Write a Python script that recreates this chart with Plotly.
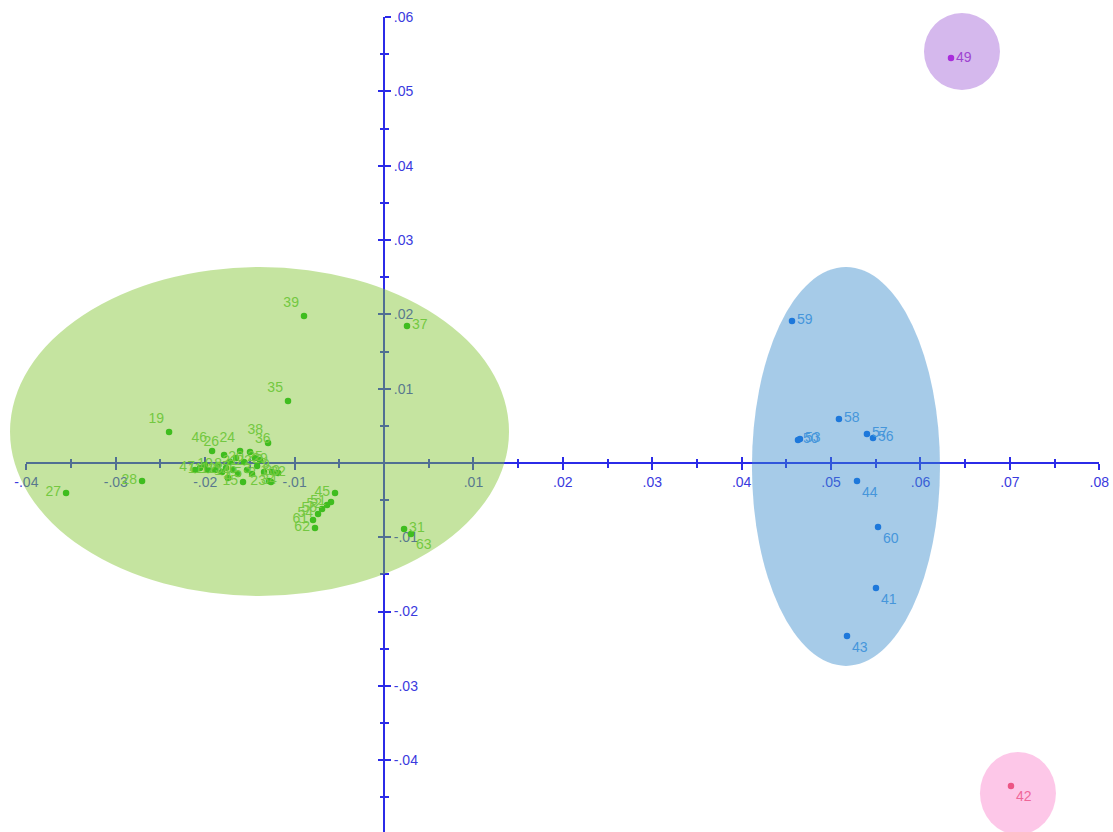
import plotly.graph_objects as go

# ---------------------------------------------------------------- data
# Cluster A (green)
green_x = [-0.00895, 0.00257, -0.01074, -0.02404, -0.03556, -0.02706, -0.01297,
           -0.01923, -0.01789, -0.01610, -0.01499, -0.01655, -0.01722, -0.01566,
           -0.01443, -0.01387, -0.01420, -0.01253, -0.01185, -0.01286, -0.01264,
           -0.01577, -0.01812, -0.01890, -0.01968, -0.02058, -0.02114, -0.02002,
           -0.01856, -0.01767, -0.01689, -0.01633, -0.01745, -0.01532, -0.01476,
           -0.01342,
           -0.00548, -0.00593, -0.00637, -0.00693, -0.00738, -0.00794, -0.00772,
           0.00224, 0.00302]
green_y = [0.01978, 0.01843, 0.00834, 0.00417, -0.00404, -0.00242, 0.00269,
           0.00161, 0.00108, 0.00161, 0.00148, 0.00067, 0.00013, 0.00013,
           0.00067, 0.00040, -0.00040, -0.00121, -0.00135, -0.00242, -0.00256,
           -0.00256, -0.00121, -0.00094, -0.00094, -0.00067, -0.00094, -0.00027,
           -0.00027, -0.00067, -0.00094, -0.00148, -0.00202, -0.00094, -0.00148,
           -0.00121,
           -0.00404, -0.00525, -0.00565, -0.00619, -0.00686, -0.00767, -0.00875,
           -0.00888, -0.00955]
green_labels = ["39", "37", "35", "19", "27", "28", "38",
                "46", "26", "24", "36", "20", "21", "22",
                "25", "29", "9", "30", "32", "34", "23",
                "15", "14", "13", "12", "47", "11", "10",
                "8", "7", "6", "5", "4", "3", "2",
                "1",
                "45", "51", "52", "55", "54", "61", "62",
                "31", "63"]
green_pos = ["top left", "middle right", "top left", "top left", "middle left", "middle left", "top left",
             "top left", "top left", "top left", "top right", "middle center", "middle center", "middle center",
             "middle center", "middle center", "middle right", "middle center", "middle center", "middle center", "middle left",
             "middle left", "middle center", "middle center", "middle center", "middle left", "middle center", "middle center",
             "middle center", "middle center", "middle center", "middle center", "middle center", "middle center", "middle center",
             "middle center",
             "middle left", "middle left", "middle left", "middle left", "middle left", "middle left", "middle left",
             "middle right", "bottom right"]

# Cluster B (blue)
blue_x = [0.04563, 0.05088, 0.04630, 0.04652, 0.05401, 0.05469, 0.05290, 0.05525, 0.05502, 0.05178]
blue_y = [0.01911, 0.00592, 0.00309, 0.00323, 0.00390, 0.00336, -0.00242, -0.00861, -0.01682, -0.02328]
blue_labels = ["59", "58", "50", "53", "57", "56", "44", "60", "41", "43"]
blue_pos = ["middle right", "middle right", "middle right", "middle right", "middle right",
            "middle right", "bottom right", "bottom right", "bottom right", "bottom right"]

# Cluster C (purple) and cluster D (pink)
purple_x, purple_y, purple_labels = [0.06341], [0.05449], ["49"]
pink_x, pink_y, pink_labels = [0.07012], [-0.04346], ["42"]

# Cluster outlines: (x0, x1, y0, y1)
green_region = (-0.04183, 0.01398, -0.01790, 0.02637)
blue_region = (0.04115, 0.06218, -0.02731, 0.02637)
purple_region = (0.06039, 0.06889, 0.05019, 0.06055)
pink_region = (0.06665, 0.07515, -0.05000, -0.03889)

# Axis ticks
x_tickvals = [-0.04, -0.03, -0.02, -0.01, 0.01, 0.02, 0.03, 0.04, 0.05, 0.06, 0.07, 0.08]
x_ticktext = ["-.04", "-.03", "-.02", "-.01", ".01", ".02", ".03", ".04", ".05", ".06", ".07", ".08"]
x_minorvals = [-0.035, -0.025, -0.015, -0.005, 0.005, 0.015, 0.025, 0.035, 0.045, 0.055, 0.065, 0.075]
y_tickvals = [-0.04, -0.03, -0.02, -0.01, 0.01, 0.02, 0.03, 0.04, 0.05, 0.06]
y_ticktext = ["-.04", "-.03", "-.02", "-.01", ".01", ".02", ".03", ".04", ".05", ".06"]
y_minorvals = [-0.045, -0.035, -0.025, -0.015, -0.005, 0.005, 0.015, 0.025, 0.035, 0.045, 0.055]

# ---------------------------------------------------------------- geometry
W, H = 1113, 832
X_WINDOW = [-0.04295, 0.08153]   # data extent of the whole canvas
Y_WINDOW = [-0.04966, 0.06230]
X_AXIS = [-0.04, 0.08]           # drawn extent of the axes
Y_AXIS = [Y_WINDOW[0], 0.06]

xs = X_WINDOW[1] - X_WINDOW[0]
ys = Y_WINDOW[1] - Y_WINDOW[0]
x_dom = [(X_AXIS[0] - X_WINDOW[0]) / xs, (X_AXIS[1] - X_WINDOW[0]) / xs]
y_dom = [(Y_AXIS[0] - Y_WINDOW[0]) / ys, (Y_AXIS[1] - Y_WINDOW[0]) / ys]
x_axis_pos = (0 - Y_WINDOW[0]) / ys     # where y = 0 sits on the page
y_axis_pos = (0 - X_WINDOW[0]) / xs     # where x = 0 sits on the page

AXIS_BLUE = "#2b2be8"
TICK_FONT = dict(family="Liberation Sans, Arial, sans-serif", size=14, color="#3a3ade")
LABEL_FONT = "Liberation Sans, Arial, sans-serif"

fig = go.Figure()

# canvas subplot for the cluster outlines
fig.add_trace(go.Scatter(x=[], y=[], xaxis="x", yaxis="y", showlegend=False, hoverinfo="skip"))
# inner tick marks of the crossing axes
fig.add_trace(go.Scatter(x=[], y=[], xaxis="x3", yaxis="y3", showlegend=False, hoverinfo="skip"))


def cluster(xv, yv, labels, pos, point_color, text_color):
    return go.Scatter(
        x=xv, y=yv, text=labels, mode="markers+text", textposition=pos,
        xaxis="x2", yaxis="y2", cliponaxis=False, showlegend=False,
        marker=dict(size=6.5, color=point_color, line=dict(width=0)),
        textfont=dict(family=LABEL_FONT, size=14, color=text_color),
    )


fig.add_trace(cluster(green_x, green_y, green_labels, green_pos, "#0cb814", "#6acc52"))
fig.add_trace(cluster(blue_x, blue_y, blue_labels, blue_pos, "#0768e8", "#4f9ee8"))
fig.add_trace(cluster(purple_x, purple_y, purple_labels, "middle right", "#b000e0", "#9c2ccc"))
fig.add_trace(cluster(pink_x, pink_y, pink_labels, "bottom right", "#e0304c", "#e65070"))

for (x0, x1, y0, y1), col in [(green_region, "rgb(127,195,44)"),
                              (blue_region, "rgb(58,140,204)"),
                              (purple_region, "rgb(162,98,216)"),
                              (pink_region, "rgb(251,131,204)")]:
    fig.add_shape(type="circle", xref="x", yref="y", x0=x0, x1=x1, y0=y0, y1=y1,
                  fillcolor=col, opacity=0.45, line=dict(width=0), layer="above")

hidden = dict(visible=False, showgrid=False, zeroline=False, automargin=False)
tick_common = dict(tickmode="array", tickwidth=2, tickcolor=AXIS_BLUE, automargin=False,
                   showgrid=False, zeroline=False, layer="below traces")

fig.update_layout(
    width=W, height=H,
    margin=dict(l=0, r=0, t=0, b=0, pad=0),
    paper_bgcolor="white", plot_bgcolor="rgba(0,0,0,0)",
    xaxis=dict(range=X_WINDOW, domain=[0, 1], **hidden),
    yaxis=dict(range=Y_WINDOW, domain=[0, 1], **hidden),
    xaxis2=dict(range=X_AXIS, domain=x_dom, anchor="free", position=x_axis_pos, side="bottom",
                showline=True, linecolor=AXIS_BLUE, linewidth=2,
                tickvals=x_tickvals, ticktext=x_ticktext, ticks="outside", ticklen=6,
                tickfont=TICK_FONT,
                minor=dict(tickmode="array", tickvals=x_minorvals, ticks="outside",
                           ticklen=4, tickwidth=2, tickcolor=AXIS_BLUE, showgrid=False),
                **tick_common),
    yaxis2=dict(range=Y_AXIS, domain=y_dom, anchor="free", position=y_axis_pos, side="right",
                showline=True, linecolor=AXIS_BLUE, linewidth=2,
                tickvals=y_tickvals, ticktext=y_ticktext, ticks="outside", ticklen=6,
                tickfont=TICK_FONT,
                minor=dict(tickmode="array", tickvals=y_minorvals, ticks="outside",
                           ticklen=4, tickwidth=2, tickcolor=AXIS_BLUE, showgrid=False),
                **tick_common),
    xaxis3=dict(range=X_AXIS, overlaying="x2", anchor="free", position=x_axis_pos, side="bottom",
                showline=False, showticklabels=False,
                tickvals=x_tickvals, ticks="inside", ticklen=6,
                minor=dict(tickmode="array", tickvals=x_minorvals, ticks="inside",
                           ticklen=4, tickwidth=2, tickcolor=AXIS_BLUE, showgrid=False),
                **tick_common),
    yaxis3=dict(range=Y_AXIS, overlaying="y2", anchor="free", position=y_axis_pos, side="right",
                showline=False, showticklabels=False,
                tickvals=y_tickvals, ticks="inside", ticklen=6,
                minor=dict(tickmode="array", tickvals=y_minorvals, ticks="inside",
                           ticklen=4, tickwidth=2, tickcolor=AXIS_BLUE, showgrid=False),
                **tick_common),
)

fig.write_html("out.html")
